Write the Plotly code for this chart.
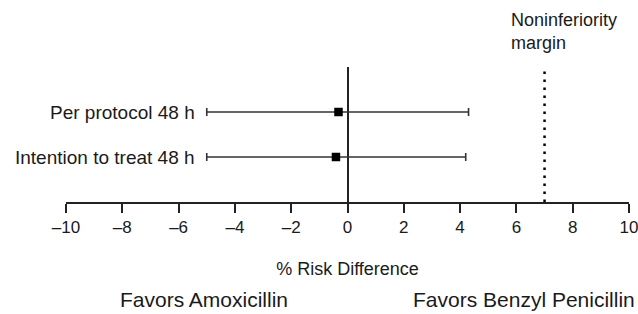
import plotly.graph_objects as go

categories = ["Per protocol 48 h", "Intention to treat 48 h"]
row_pos = [1, 0]
estimates = [-0.32, -0.41]
ci_low = [-5.0, -5.0]
ci_high = [4.3, 4.2]
margin_value = 7
x_ticks = list(range(-10, 11, 2))
x_tick_text = [("\u2013" + str(abs(v))) if v < 0 else str(v) for v in x_ticks]
side_labels = ["Favors Amoxicillin", "Favors Benzyl Penicillin"]
side_label_pos = [0.245, 0.813]

FONT = "Liberation Sans, Arial, sans-serif"
INK = "#1a1a1a"

fig = go.Figure()

fig.add_trace(go.Scatter(
    x=estimates, y=row_pos, mode="markers",
    marker=dict(symbol="square", size=8.5, color="black"),
    error_x=dict(type="data", symmetric=False,
                 array=[h - e for h, e in zip(ci_high, estimates)],
                 arrayminus=[e - l for e, l in zip(estimates, ci_low)],
                 color="#333333", thickness=1.6, width=4),
    showlegend=False, hoverinfo="skip",
))

# noninferiority margin (dotted)
fig.add_shape(type="line", x0=margin_value, x1=margin_value, y0=-1, y1=2,
              xref="x", yref="y", line=dict(color="black", width=2.5, dash="2.5px,5.5px"))

for cat, y, lo in zip(categories, row_pos, ci_low):
    fig.add_annotation(x=lo, y=y, xref="x", yref="y", text=cat, showarrow=False,
                       xanchor="right", yanchor="middle", xshift=-10,
                       font=dict(family=FONT, size=19, color=INK))

fig.add_annotation(x=margin_value, y=2, xref="x", yref="y",
                   text="Noninferiority<br>margin", showarrow=False,
                   xanchor="left", yanchor="bottom", align="left", xshift=-36, yshift=12,
                   font=dict(family=FONT, size=18, color=INK))

for lab, px in zip(side_labels, side_label_pos):
    fig.add_annotation(x=px, y=-0.72, xref="paper", yref="paper", text=lab,
                       showarrow=False, xanchor="center", yanchor="middle",
                       font=dict(family=FONT, size=21, color=INK))

fig.update_layout(
    width=638, height=314,
    margin=dict(l=66, r=8.5, t=67, b=112, autoexpand=False),
    paper_bgcolor="white", plot_bgcolor="white",
    font=dict(family=FONT, color=INK),
    xaxis=dict(range=[-10, 10], tickvals=x_ticks, ticktext=x_tick_text,
               automargin=False,
               showgrid=False, zeroline=True, zerolinecolor="#222222", zerolinewidth=2,
               showline=True, linecolor="#222222", linewidth=2,
               ticks="outside", ticklen=9, tickwidth=2, tickcolor="#222222",
               ticklabeloverflow="allow",
               tickfont=dict(family=FONT, size=17, color=INK),
               title=dict(text="% Risk Difference", standoff=26,
                          font=dict(family=FONT, size=18, color=INK))),
    yaxis=dict(range=[-1, 2], showgrid=False, zeroline=False, showline=False,
               showticklabels=False, ticks=""),
)

fig.write_html("out.html", config={"displayModeBar": False},
               post_script="document.body.style.margin='0';")
